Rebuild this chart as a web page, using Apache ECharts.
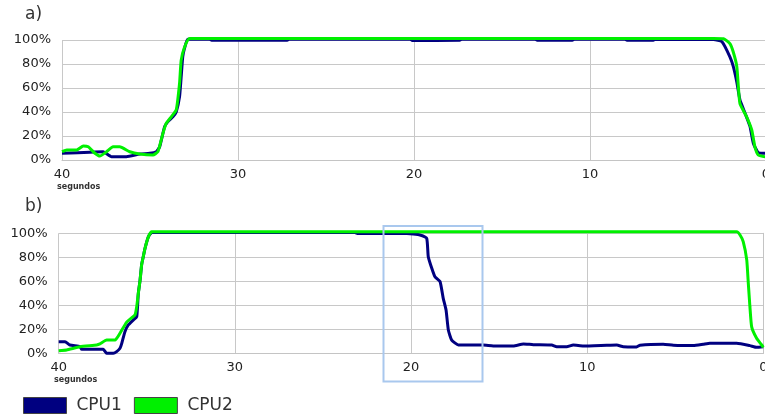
<!DOCTYPE html>
<html>
<head>
<meta charset="utf-8">
<script src="https://cdn.jsdelivr.net/npm/echarts@6/dist/echarts.min.js"></script>
<style>html,body{margin:0;padding:0;background:#fff}#c{width:765px;height:415px}</style>
</head>
<body>
<div id="c"></div>
<script>
// x ticks (seconds, counted down) and y ticks
const xTicks = [40, 30, 20, 10, 0];
const yTicks = [0, 20, 40, 60, 80, 100];

// Panel a) CPU1
const aCpu1 = [[40,5.6],[37.66,6.9],[37.19,2.8],[36.34,2.8],[35.59,5],[35.02,5.6],[34.64,6.9],[34.45,11],[34.17,27.8],[33.98,32],[33.7,36],[33.51,40],[33.32,52.8],[33.23,69],[33.14,86],[33.04,93],[32.85,100.6],
  [31.6,100.6],[31.5,99.8],[27.2,99.8],[27.1,100.6],[20.2,100.6],[20.1,99.6],[17.4,99.8],[17.3,100.6],[13.1,100.6],[13.0,99.8],[11.0,99.8],[10.9,100.6],[8.0,100.6],[7.9,99.8],[6.4,99.8],[6.3,100.6],
  [2.98,100.4],[2.5,98.6],[2.05,86],[1.86,78],[1.66,65],[1.48,50],[1.19,39],[0.91,28],[0.72,14],[0.44,6],[0.06,5.6],[0,5.6]];
// Panel a) CPU2
const aCpu2 = [[40,6.9],[39.73,8.3],[39.17,8.3],[38.79,11.7],[38.51,11],[38.13,5.6],[37.85,3.3],[37.47,6.9],[37.1,11],[36.72,11],[36.15,6.9],[35.59,5],[34.83,4.2],[34.55,6.9],[34.27,22],[34.08,30.5],[33.79,36],[33.51,41.7],[33.32,64],[33.23,83],[33.04,94],[32.75,101.2],
  [2.98,101.2],[2.41,101],[2.05,97],[1.86,90],[1.66,78],[1.57,61],[1.48,47],[1.1,36],[0.81,25],[0.63,11],[0.44,4.2],[0.06,2.8],[0,2.8]];

// Panel b) CPU1
const bCpu1 = [[40,9.7],[39.64,9.7],[39.36,6.9],[38.79,5.5],[38.69,3.3],[37.47,3.3],[37.28,0],[36.9,0],[36.71,1.4],[36.52,4.2],[36.42,8.3],[36.24,18],[36.05,23.6],[35.77,27.7],[35.57,30.5],[35.48,50],[35.38,61],[35.29,74],[35.2,80.5],[35.1,87.5],[34.91,97],[34.72,100.6],
  [23.2,100.6],[23.0,99.8],[20.24,99.8],[19.87,99.4],[19.49,98.6],[19.11,95.8],[19.02,80.5],[18.82,70.8],[18.64,63.8],[18.35,59.7],[18.17,45.8],[18.01,36],[17.88,19.4],[17.69,11],[17.31,6.9],[15.9,6.9],[15.33,6.1],[14.19,6.1],[13.62,7.8],[13.06,7.2],[12.01,6.9],[11.73,5.5],[11.16,5.5],[10.79,6.9],[10.22,6.1],[8.89,6.7],[8.32,6.9],[7.95,5.5],[7.19,5.3],[7.0,6.7],[5.68,7.5],[5.11,6.7],[3.97,6.4],[3.41,7.5],[3.03,8.3],[1.51,8.3],[0.76,6.4],[0.38,5],[0,5.5]];
// Panel b) CPU2
const bCpu2 = [[40,2.2],[39.55,2.8],[38.79,5.5],[37.84,6.9],[37.66,7.8],[37.28,11],[36.8,11],[36.52,16.7],[36.14,26],[35.67,32],[35.57,39],[35.48,50],[35.38,61],[35.29,74],[35.2,80.5],[35.1,87.5],[34.91,97],[34.72,101.2],
  [1.51,101.2],[1.32,98.6],[1.14,93],[0.94,77.8],[0.85,58],[0.76,38.8],[0.66,22],[0.38,12.5],[0.09,6.9],[0,5]];

const seriesNames = ['CPU1', 'CPU2'];
const colors = ['#000080', '#00f000'];

const chart = echarts.init(document.getElementById('c'), null, {renderer: 'canvas'});
const font = 'DejaVu Sans, Verdana, sans-serif';
function xAx(i) {
  return {
    type: 'value', gridIndex: i, inverse: true,
    min: xTicks[xTicks.length - 1], max: xTicks[0], interval: 10,
    axisLine: {show: true, lineStyle: {color: '#c4c4c4', width: 1}},
    axisTick: {show: false},
    splitLine: {show: true, lineStyle: {color: '#c8c8c8', width: 1}},
    axisLabel: {color: '#222', fontSize: 13, fontFamily: font, margin: 8, hideOverlap: false}
  };
}
function yAx(i) {
  return {
    type: 'value', gridIndex: i,
    min: yTicks[0], max: yTicks[yTicks.length - 1], interval: 20,
    axisLine: {show: true, lineStyle: {color: '#c4c4c4', width: 1}},
    axisTick: {show: false},
    splitLine: {show: true, lineStyle: {color: '#c8c8c8', width: 1}},
    axisLabel: {color: '#222', fontSize: 13, fontFamily: font, margin: 11, formatter: '{value}%'}
  };
}
function line(name, data, i, color) {
  return {
    name: name, type: 'line', xAxisIndex: i, yAxisIndex: i, data: data,
    showSymbol: false, symbol: 'none', clip: false, smooth: 0.15,
    lineStyle: {color: color, width: 3}, itemStyle: {color: color},
    animation: false
  };
}

chart.setOption({
  animation: false,
  grid: [
    {left: 62, width: 704, top: 40, height: 120, outerBoundsMode: 'none', containLabel: false},
    {left: 58.7, width: 704.6, top: 233.3, height: 120, outerBoundsMode: 'none', containLabel: false}
  ],
  xAxis: [xAx(0), xAx(1)],
  yAxis: [yAx(0), yAx(1)],
  legend: {
    left: 23, top: 397, orient: 'horizontal', padding: 0,
    icon: 'rect', itemWidth: 43, itemHeight: 16, itemGap: 12,
    textStyle: {fontSize: 17, fontFamily: font, color: '#333', padding: [0, 0, 0, 5]},
    data: seriesNames.map((n, k) => ({name: n, itemStyle: {color: colors[k], borderColor: '#444', borderWidth: 1}}))
  },
  series: [
    line(seriesNames[0], aCpu1, 0, colors[0]),
    line(seriesNames[1], aCpu2, 0, colors[1]),
    line(seriesNames[0], bCpu1, 1, colors[0]),
    line(seriesNames[1], bCpu2, 1, colors[1])
  ],
  graphic: [
    {type: 'text', left: 25, top: 6, style: {text: 'a)', fontSize: 17, fontFamily: font, fill: '#333'}},
    {type: 'text', left: 25, top: 198, style: {text: 'b)', fontSize: 17, fontFamily: font, fill: '#333'}},
    {type: 'text', left: 57, top: 183, style: {text: 'segundos', fontSize: 8, fontWeight: 'bold', fontFamily: font, fill: '#333'}},
    {type: 'text', left: 54, top: 376, style: {text: 'segundos', fontSize: 8, fontWeight: 'bold', fontFamily: font, fill: '#333'}},
    {type: 'rect', shape: {x: 383.5, y: 226, width: 99, height: 155.5}, style: {fill: 'none', stroke: '#a9c8ee', lineWidth: 2}, z: 10}
  ]
});
</script>
</body>
</html>
